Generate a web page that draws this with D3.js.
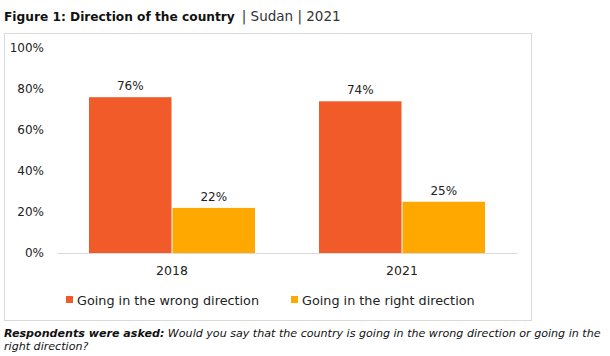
<!DOCTYPE html>
<html><head><meta charset="utf-8">
<script src="https://cdn.jsdelivr.net/npm/d3@7"></script>
<style>body{margin:0;background:#fff}svg{display:block}text{font-family:"DejaVu Sans",sans-serif}</style>
</head><body>
<svg id="c" width="610" height="356"></svg>
<script>
const categories = ["2018", "2021"];
const seriesNames = ["Going in the wrong direction", "Going in the right direction"];
const wrongValues = [76, 74];
const rightValues = [22, 25];
const yTicks = [0, 20, 40, 60, 80, 100];
const colors = ["#F15A29", "#FFA800"];

const svg = d3.select("#c");
const seriesData = [wrongValues, rightValues];

// Title
const title = svg.append("text").attr("x", 4).attr("y", 21);
title.append("tspan").attr("font-weight", "bold").attr("font-size", 12.2).attr("fill", "#111").text("Figure 1: Direction of the country");
title.append("tspan").attr("fill", "#333").attr("font-size", 13.5).attr("dx", 7).text("|  Sudan  |  2021");

// Chart border
svg.append("rect").attr("x", 4.5).attr("y", 33.5).attr("width", 527).attr("height", 287)
  .attr("fill", "none").attr("stroke", "#d9d9d9").attr("stroke-width", 1);

const x0 = d3.scaleBand().domain(categories).range([57, 517]).paddingInner(0).paddingOuter(0);
const x1 = d3.scaleBand().domain([0, 1]).range([32, 198]).paddingInner(0.012);
const y = d3.scaleLinear().domain([0, 100]).range([253, 48]);

// Y axis labels
const yAxis = d3.axisLeft(y).tickValues(yTicks).tickFormat(d => d + "%").tickSize(0).tickPadding(0);
const yg = svg.append("g").attr("transform", "translate(44,0)").call(yAxis);
yg.select(".domain").remove();
yg.selectAll("text").attr("font-size", 12).attr("fill", "#222").attr("font-family", "DejaVu Sans, sans-serif");

// Bars
categories.forEach((c, ci) => {
  const g = svg.append("g").attr("transform", `translate(${x0(c)},0)`);
  seriesData.forEach((vals, si) => {
    g.append("rect").attr("x", x1(si)).attr("y", y(vals[ci]))
      .attr("width", x1.bandwidth()).attr("height", y(0) - y(vals[ci])).attr("fill", colors[si]);
    g.append("text").attr("x", x1(si) + x1.bandwidth() / 2).attr("y", y(vals[ci]) - 7)
      .attr("text-anchor", "middle").attr("font-size", 12).attr("fill", "#222").text(vals[ci] + "%");
  });
});

// X axis
const xAxis = d3.axisBottom(x0).tickSize(0).tickPadding(13);
const xg = svg.append("g").attr("transform", `translate(0,${y(0)})`).call(xAxis);
xg.select(".domain").attr("stroke", "#d9d9d9");
xg.selectAll("text").attr("font-size", 12.5).attr("fill", "#222").attr("font-family", "DejaVu Sans, sans-serif");

// Legend
const legX = [66, 291];
seriesNames.forEach((n, i) => {
  svg.append("rect").attr("x", legX[i]).attr("y", 296).attr("width", 7).attr("height", 7).attr("fill", colors[i]);
  svg.append("text").attr("x", legX[i] + 11).attr("y", 304.5).attr("font-size", 12.8).attr("fill", "#222").text(n);
});

// Footnote
const f1 = svg.append("text").attr("x", 4).attr("y", 337).attr("font-size", 11.1).attr("font-style", "italic").attr("fill", "#111");
f1.append("tspan").attr("font-weight", "bold").text("Respondents were asked:");
f1.append("tspan").text(" Would you say that the country is going in the wrong direction or going in the");
svg.append("text").attr("x", 4).attr("y", 350).attr("font-size", 11.1).attr("font-style", "italic").attr("fill", "#111")
  .text("right direction?");
</script>
</body></html>
